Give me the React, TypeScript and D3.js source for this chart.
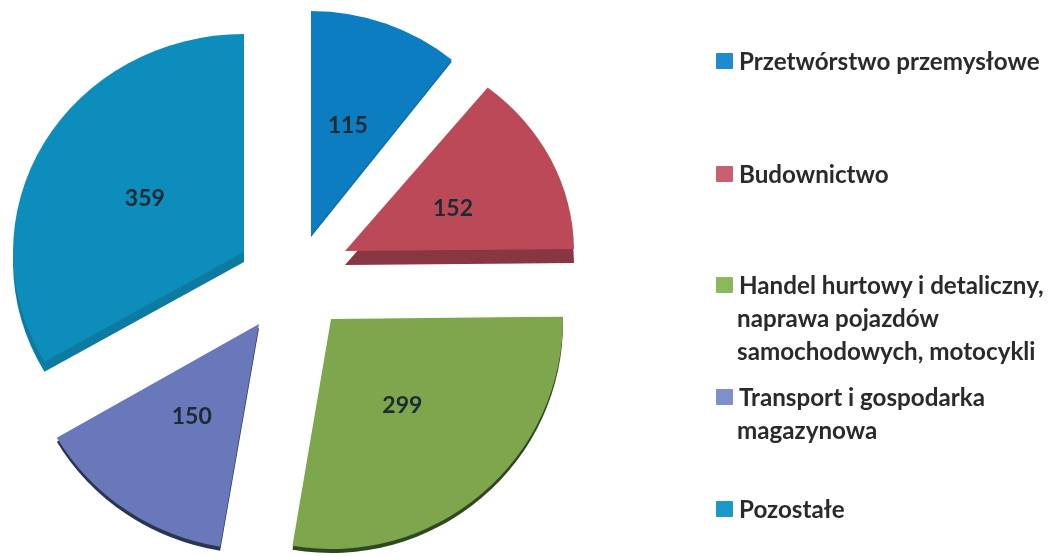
import React from "react";
import * as d3 from "d3";

const categories = ["Przetwórstwo przemysłowe", "Budownictwo", "Handel hurtowy i detaliczny, naprawa pojazdów samochodowych, motocykli", "Transport i gospodarka magazynowa", "Pozostałe"];
const values = [115, 152, 299, 150, 359];
const colors = ["#0e7dc2", "#bb4a59", "#7ea74e", "#6778ba", "#0b8dbb"];
const sideColors = ["#0a6aa6", "#8a3442", "#2f4a22", "#2c3550", "#0a7aa2"];
const legendColors = ["#1a8ccf", "#c95f70", "#8cb85c", "#7f8fca", "#1a98c6"];
const legendLines = [["Przetwórstwo przemysłowe"], ["Budownictwo"], ["Handel hurtowy i detaliczny,", "naprawa pojazdów", "samochodowych, motocykli"], ["Transport i gospodarka", "magazynowa"], ["Pozostałe"]];
const legendBaselines = [70, 183, 294, 406, 518];

// layout of each exploded slice: apex position, radii, extrusion, label nudge
const sliceLayout = [
  { cx: 311, cy: 235, rx: 226, ry: 224, depth: 2, ldx: -2, ldy: -1 },
  { cx: 345, cy: 251, rx: 229, ry: 209, depth: 14, ldx: 1, ldy: 4 },
  { cx: 331, cy: 319, rx: 232, ry: 230, depth: 4, ldx: -7, ldy: -6 },
  { cx: 259, cy: 324, rx: 234, ry: 226, depth: 4, ldx: 2, ldy: -6 },
  { cx: 244, cy: 252, rx: 231, ry: 218, depth: 10, ldx: 5, ldy: 1 },
];

export default function App() {
  const pie = d3.pie<number>().sort(null)(values);
  const arc = d3.arc<d3.PieArcDatum<number>>().innerRadius(0).outerRadius(1);
  return (
    <svg width={1053} height={557} style={{ position: "absolute", left: 0, top: 0, background: "#fff" }}>
      <defs>
        <filter id="soft" x="-2%" y="-2%" width="104%" height="104%">
          <feGaussianBlur stdDeviation="0.7" />
        </filter>
      </defs>
      <g filter="url(#soft)">
        {pie.map((d, i) => {
          const s = sliceLayout[i];
          const path = arc(d) as string;
          const [lx, ly] = arc.centroid(d);
          return (
            <g key={categories[i]}>
              <g transform={`translate(${s.cx},${s.cy + s.depth}) scale(${s.rx},${s.ry})`}>
                <path d={path} fill={sideColors[i]} />
              </g>
              <g transform={`translate(${s.cx},${s.cy}) scale(${s.rx},${s.ry})`}>
                <path d={path} fill={colors[i]} />
              </g>
              <text
                x={s.cx + lx * s.rx * 1.04 + s.ldx}
                y={s.cy + ly * s.ry * 1.04 + s.ldy}
                textAnchor="middle"
                dominantBaseline="central"
                fontFamily="Lato, sans-serif"
                fontSize={23}
                fontWeight={700}
                fill="#1b2a33"
              >
                {values[i]}
              </text>
            </g>
          );
        })}
        {legendLines.map((lines, i) => (
          <g key={i} transform={`translate(716,${legendBaselines[i]})`}>
            <rect x={0} y={-17} width={17} height={16} rx={1} fill={legendColors[i]} />
            <text fontFamily="Lato, sans-serif" fontSize={24.2} fontWeight={700} fill="#2b2b2b">
              {lines.map((t, j) => (
                <tspan key={t} x={j === 0 ? 23 : 21} y={j * 33}>{t}</tspan>
              ))}
            </text>
          </g>
        ))}
      </g>
    </svg>
  );
}
